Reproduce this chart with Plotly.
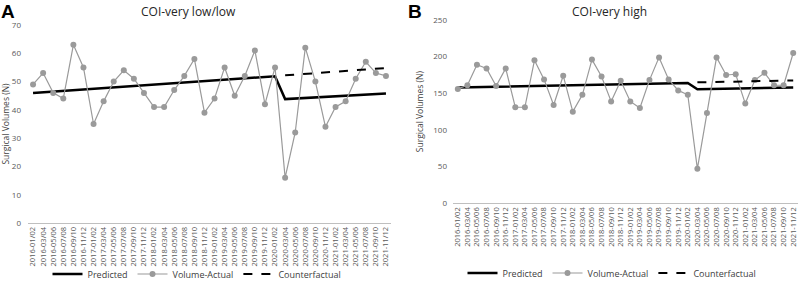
import plotly.graph_objects as go

periods = [f"{y}-{m}" for y in range(2016, 2022)
           for m in ["01/02", "03/04", "05/06", "07/08", "09/10", "11/12"]]

low_actual = [49, 53, 46, 44, 63, 55, 35, 43, 50, 54, 51, 46, 41, 41, 47, 52, 58, 39,
              44, 55, 45, 52, 61, 42, 55, 16, 32, 62, 50, 34, 41, 43, 51, 57, 53, 52]
low_pred_x = [periods[0], periods[24], periods[25], periods[35]]
low_pred_y = [46, 51.9, 43.8, 45.8]
low_cf_x = [periods[25], periods[35]]
low_cf_y = [52.2, 54.8]

high_actual = [156, 161, 189, 184, 160, 184, 131, 131, 195, 169, 134, 174, 125, 148, 196, 173,
               139, 167, 139, 130, 168, 199, 169, 154, 148, 47, 123, 199, 175, 176, 136, 168,
               178, 161, 161, 205]
high_pred_x = [periods[0], periods[24], periods[25], periods[35]]
high_pred_y = [158, 164, 155.5, 158]
high_cf_x = [periods[25], periods[35]]
high_cf_y = [165, 167.5]

H = 281.0
def fy(px):
    return (H - px) / H

FONT = "Open Sans, Liberation Sans, sans-serif"

fig = go.Figure()

def add_panel(xa, ya, leg, actual, px_, py_, cx, cy):
    fig.add_trace(go.Scatter(x=px_, y=py_, mode="lines", name="Predicted",
                             line=dict(color="black", width=2.5),
                             xaxis=xa, yaxis=ya, legend=leg))
    fig.add_trace(go.Scatter(x=periods, y=actual, mode="lines+markers", name="Volume-Actual",
                             line=dict(color="#9a9a9a", width=1.2),
                             marker=dict(color="#9a9a9a", size=6),
                             xaxis=xa, yaxis=ya, legend=leg))
    fig.add_trace(go.Scatter(x=cx, y=cy, mode="lines", name="Counterfactual",
                             line=dict(color="black", width=2, dash="dash"),
                             xaxis=xa, yaxis=ya, legend=leg))

add_panel("x", "y", "legend", low_actual, low_pred_x, low_pred_y, low_cf_x, low_cf_y)
add_panel("x2", "y2", "legend2", high_actual, high_pred_x, high_pred_y, high_cf_x, high_cf_y)

tickfont = dict(family=FONT, size=7.5, color="#595959")
xcommon = dict(type="category", categoryorder="array", categoryarray=periods,
               range=[-0.5, 35.5], tickangle=-90, tickfont=tickfont,
               tickmode="linear", tick0=0, dtick=1,
               showline=True, linecolor="#bfbfbf", linewidth=1, showgrid=False,
               ticks="", zeroline=False, fixedrange=True, automargin=False)
ycommon = dict(showgrid=False, zeroline=False, showline=False, ticks="",
               tickfont=dict(family=FONT, size=8, color="#595959"), automargin=False)
ytitle_font = dict(family=FONT, size=8.5, color="#404040")

fig.update_layout(
    width=800, height=281,
    margin=dict(l=0, r=0, t=0, b=0, autoexpand=False),
    paper_bgcolor="white", plot_bgcolor="white",
    xaxis=dict(domain=[28/800, 391/800], anchor="y", **xcommon),
    yaxis=dict(domain=[fy(223), fy(25)], range=[0, 70], dtick=10, anchor="x",
               ticklabelstandoff=6,
               title=dict(text="Surgical Volumes (N)", font=ytitle_font), **ycommon),
    xaxis2=dict(domain=[453/800, 798/800], anchor="y2", **xcommon),
    yaxis2=dict(domain=[fy(203.3), fy(20)], range=[0, 250], dtick=50, anchor="x2",
                ticklabelstandoff=5,
                title=dict(text="Surgical Volumes (N)", font=ytitle_font, standoff=8), **ycommon),
    legend=dict(orientation="h", x=197/800, y=fy(274), xanchor="center", yanchor="middle",
                font=dict(family=FONT, size=9, color="#404040"),
                bgcolor="rgba(0,0,0,0)", itemwidth=30, tracegroupgap=0),
    legend2=dict(orientation="h", x=612/800, y=fy(273), xanchor="center", yanchor="middle",
                 font=dict(family=FONT, size=9, color="#404040"),
                 bgcolor="rgba(0,0,0,0)", itemwidth=30, tracegroupgap=0),
    annotations=[
        dict(text="COI-very low/low", x=188/800, y=fy(12), xref="paper", yref="paper",
             showarrow=False, xanchor="center", yanchor="middle",
             font=dict(family=FONT, size=12, color="#262626")),
        dict(text="COI-very high", x=609/800, y=fy(12), xref="paper", yref="paper",
             showarrow=False, xanchor="center", yanchor="middle",
             font=dict(family=FONT, size=12, color="#262626")),
        dict(text="<b>A</b>", x=0, y=1, xref="paper", yref="paper",
             showarrow=False, xanchor="left", yanchor="top", borderpad=0,
             font=dict(family="Liberation Sans, Arial, sans-serif", size=19, color="black")),
        dict(text="<b>B</b>", x=407/800, y=1, xref="paper", yref="paper",
             showarrow=False, xanchor="left", yanchor="top", borderpad=0,
             font=dict(family="Liberation Sans, Arial, sans-serif", size=19, color="black")),
    ],
    showlegend=True,
)

fig.write_html("out.html", config={"displayModeBar": False},
               post_script="document.body.style.margin='0px';document.body.style.overflow='hidden';")
